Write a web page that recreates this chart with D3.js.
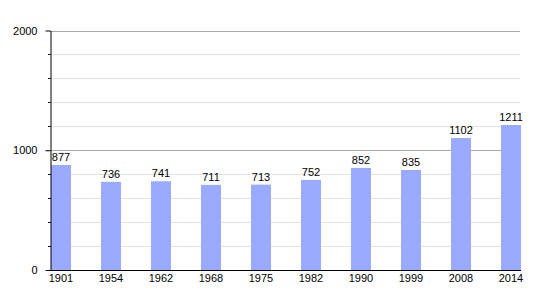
<!DOCTYPE html>
<html>
<head>
<meta charset="utf-8">
<script src="https://cdn.jsdelivr.net/npm/d3@7"></script>
<style>
  body { margin: 0; background: #fff; }
  text { font-family: "Liberation Sans", Arial, sans-serif; font-size: 11px; fill: #000; }
</style>
</head>
<body>
<script>
const years = ["1901", "1954", "1962", "1968", "1975", "1982", "1990", "1999", "2008", "2014"];
const population = [877, 736, 741, 711, 713, 752, 852, 835, 1102, 1211];
const majorTicks = [0, 1000, 2000];
const minorTicks = [200, 400, 600, 800, 1200, 1400, 1600, 1800];

const width = 550;
const height = 300;

let svg = d3.select("body")
  .append("svg")
    .attr("width", width)
    .attr("height", height)

let x = d3.scaleBand()
  .domain(years)
  .range([51, 551])
  .padding(0)

let barWidth = x.bandwidth() * 0.4;

let y = d3.scaleLinear()
  .domain([0, 2000])
  .range([270, 30.5])

// grid
svg.selectAll("line.minor")
  .data(minorTicks)
  .enter()
  .append("line")
    .attr("x1", 50).attr("x2", 520)
    .attr("y1", d => Math.round(y(d)) + 0.5)
    .attr("y2", d => Math.round(y(d)) + 0.5)
    .attr("stroke", "#e2e2e2")

svg.selectAll("line.major")
  .data(majorTicks.slice(1))
  .enter()
  .append("line")
    .attr("x1", 50).attr("x2", 520)
    .attr("y1", d => Math.round(y(d)) + 0.5)
    .attr("y2", d => Math.round(y(d)) + 0.5)
    .attr("stroke", "#a8a8a8")

// bars
svg.selectAll("rect")
  .data(population)
  .enter()
  .append("rect")
    .attr("x", (d, i) => x(years[i]))
    .attr("width", barWidth)
    .attr("y", d => y(d))
    .attr("height", d => y(0) - y(d))
    .attr("fill", "#99aaff")

svg.selectAll("text.value")
  .data(population)
  .enter()
  .append("text")
    .attr("x", (d, i) => x(years[i]) + barWidth / 2)
    .attr("y", d => y(d) - 4)
    .attr("text-anchor", "middle")
    .text(d => d)

// y axis
let yAxis = d3.axisLeft(y)
  .tickValues(majorTicks)
  .tickFormat(d3.format("d"))
  .tickSize(5)
  .tickPadding(8)
  .tickSizeOuter(0)

svg.append("g")
  .attr("transform", "translate(50.5,0)")
  .call(yAxis)
  .call(g => g.select(".domain").attr("stroke", "#000"))
  .call(g => g.selectAll("text").style("font-size", "11px").style("font-family", "Liberation Sans, Arial, sans-serif"))

svg.selectAll("line.mtick")
  .data(minorTicks)
  .enter()
  .append("line")
    .attr("x1", 48).attr("x2", 50.5)
    .attr("y1", d => Math.round(y(d)) + 0.5)
    .attr("y2", d => Math.round(y(d)) + 0.5)
    .attr("stroke", "#000")

// x axis
svg.append("line")
  .attr("x1", 50).attr("x2", 521)
  .attr("y1", 270.5).attr("y2", 270.5)
  .attr("stroke", "#000")

svg.selectAll("text.year")
  .data(years)
  .enter()
  .append("text")
    .attr("x", d => x(d) + barWidth / 2)
    .attr("y", 282)
    .attr("text-anchor", "middle")
    .text(d => d)
</script>
</body>
</html>
